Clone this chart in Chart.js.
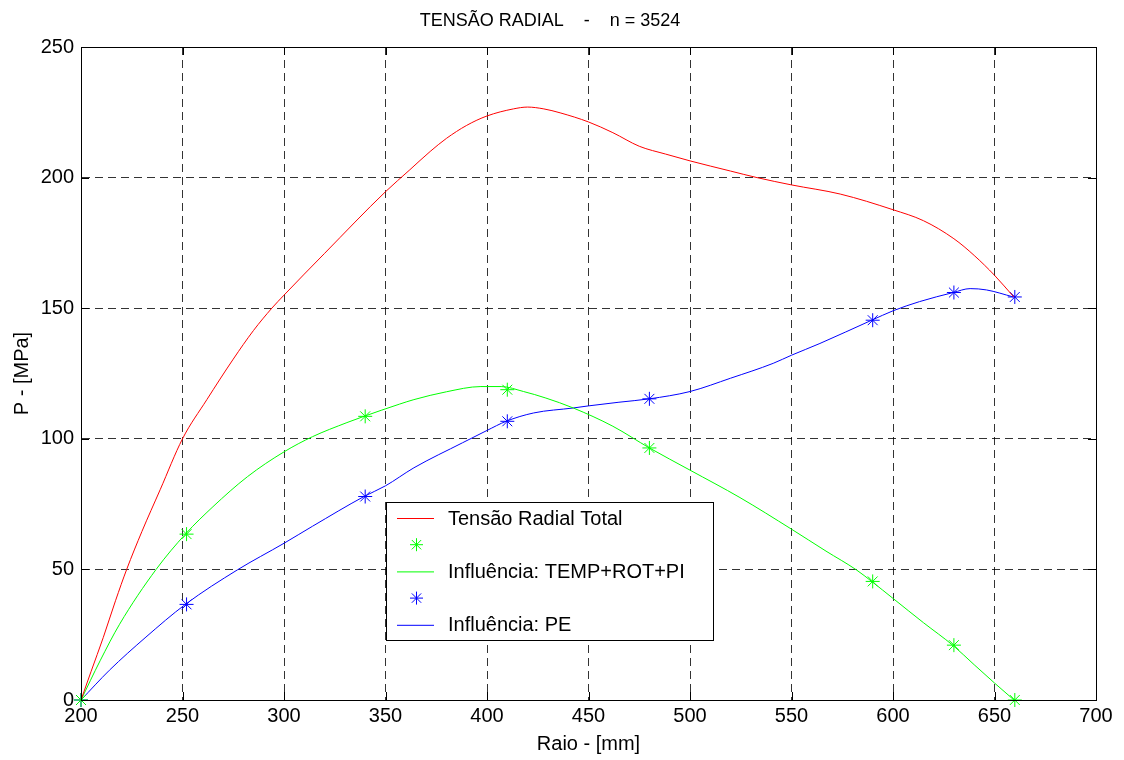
<!DOCTYPE html>
<html>
<head>
<meta charset="utf-8">
<script src="https://cdn.jsdelivr.net/npm/chart.js@4"></script>
<style>
  html, body { margin: 0; padding: 0; background: #fff; }
  #wrap { width: 1124px; height: 760px; }
</style>
</head>
<body>
<div id="wrap"><canvas id="radialChart" width="1124" height="760"></canvas></div>
<script>
// --- data ---
var xTicks = [200, 250, 300, 350, 400, 450, 500, 550, 600, 650, 700];
var yTicks = [0, 50, 100, 150, 200, 250];

// star markers (same radii for both influence series)
var markerRaio = [200, 252, 340, 410, 480, 590, 630, 660];
var markerTemp = [0, 63.5, 108.6, 118.8, 96.5, 45.4, 21, 0];
var markerPE = [0, 36.6, 77.9, 106.7, 115.3, 145.4, 156, 154.3];

// Tensão Radial Total curve
var totalRaio = [200, 205, 211, 217, 222.5, 230, 239, 250, 262, 275, 285, 294, 300, 320, 350, 362, 372, 380, 390, 400, 413, 420, 428, 436, 450, 462, 475, 488, 500, 520, 533, 550, 574, 600, 615, 630, 640, 650, 659.5];
var totalP = [0, 11, 24, 38, 50, 64.5, 80.5, 100, 115, 130.5, 141.5, 150, 155, 171, 194.6, 203, 210, 215, 220, 223.6, 226.3, 227, 226.3, 224.8, 221.3, 217.2, 212, 209, 206.4, 202.5, 200, 197.2, 193.7, 187.7, 183.5, 176.6, 170.2, 162.6, 154.3];

// Influência: TEMP+ROT+PI curve
var tempRaio = [200, 209.4, 219, 237, 251.4, 265, 282, 300, 314, 331, 339.4, 357, 364, 380, 397, 407, 418, 429, 442.5, 462, 480, 500, 524.6, 550, 567, 582, 589.5, 600, 615, 629.7, 640, 650, 659.6];
var tempP = [0, 15, 29, 50, 63.5, 74, 85.5, 95, 100.8, 106.2, 108.6, 113.3, 115, 118, 120, 120, 118.1, 115.6, 111.8, 104.8, 96.5, 88, 77.5, 65.4, 57, 49.8, 45.4, 38.9, 29.6, 20.8, 13.5, 6.5, 0];

// Influência: PE curve
var peRaio = [200, 214, 232, 251.4, 277, 300, 314, 339.4, 350, 364, 388, 400, 409.4, 423, 442.5, 450, 465, 480, 500, 520, 541, 550, 564, 589.5, 600, 613, 629.7, 638, 646, 659.3];
var peP = [0, 11.4, 24.1, 36.6, 49.8, 60, 66.5, 77.9, 82, 88.9, 98.5, 103.2, 106.7, 109.9, 111.8, 112.6, 114, 115.3, 118.1, 123.2, 128.9, 132, 136.5, 145.4, 149, 152.5, 156, 157.5, 157, 154.3];

var titleText = 'TENSÃO RADIAL    -    n = 3524';
var FONT = '"Liberation Sans", Arial, Helvetica, sans-serif';

function pts(xs, ys) {
  return xs.map(function(x, i) { return { x: x, y: ys[i] }; });
}

// MATLAB-ish frame: full box, inward ticks, title and boxed legend
var matlabFrame = {
  id: 'matlabFrame',
  afterDraw: function(chart) {
    var ctx = chart.ctx;
    var a = chart.chartArea;
    var xs = chart.scales.x, ys = chart.scales.y;
    var tl = 8;

    ctx.save();
    ctx.strokeStyle = '#000';
    ctx.lineWidth = 1;
    ctx.setLineDash([]);
    ctx.strokeRect(Math.round(a.left) + 0.5, Math.round(a.top) + 0.5, Math.round(a.right - a.left), Math.round(a.bottom - a.top));

    ctx.beginPath();
    xs.ticks.forEach(function(t) {
      var px = Math.round(xs.getPixelForValue(t.value)) + 0.5;
      ctx.moveTo(px, a.bottom); ctx.lineTo(px, a.bottom - tl);
      ctx.moveTo(px, a.top); ctx.lineTo(px, a.top + tl);
    });
    ys.ticks.forEach(function(t) {
      var py = Math.round(ys.getPixelForValue(t.value)) + 0.5;
      ctx.moveTo(a.left, py); ctx.lineTo(a.left + tl, py);
      ctx.moveTo(a.right, py); ctx.lineTo(a.right - tl, py);
    });
    ctx.stroke();

    // title
    ctx.fillStyle = '#000';
    ctx.font = '18px ' + FONT;
    ctx.textAlign = 'center';
    ctx.textBaseline = 'middle';
    ctx.fillText(titleText, 550, 21);

    // legend box
    var lx = 386.5, ly = 502.5, lw = 327, lh = 138;
    ctx.fillStyle = '#fff';
    ctx.fillRect(lx, ly, lw, lh);
    ctx.strokeStyle = '#000';
    ctx.strokeRect(lx, ly, lw, lh);

    ctx.font = '20px ' + FONT;
    ctx.textAlign = 'left';
    var rowY = 518;
    chart.data.datasets.forEach(function(ds) {
      if (ds.showLine === false) {
        var cx = 416.5, r = 6.5;
        ctx.strokeStyle = ds.borderColor;
        ctx.beginPath();
        ctx.moveTo(cx - r, rowY); ctx.lineTo(cx + r, rowY);
        ctx.moveTo(cx, rowY - r); ctx.lineTo(cx, rowY + r);
        var d = r * 0.72;
        ctx.moveTo(cx - d, rowY - d); ctx.lineTo(cx + d, rowY + d);
        ctx.moveTo(cx - d, rowY + d); ctx.lineTo(cx + d, rowY - d);
        ctx.stroke();
      } else {
        ctx.strokeStyle = ds.borderColor;
        ctx.beginPath();
        ctx.moveTo(397, rowY + 0.5); ctx.lineTo(434, rowY + 0.5);
        ctx.stroke();
      }
      if (ds.label) {
        ctx.fillStyle = '#000';
        ctx.fillText(ds.label, 448, rowY + 1);
      }
      rowY += 26.7;
    });
    ctx.restore();
  }
};

new Chart(document.getElementById('radialChart'), {
  type: 'scatter',
  data: {
    datasets: [
      {
        label: 'Tensão Radial Total',
        data: pts(totalRaio, totalP),
        showLine: true,
        borderColor: '#ff0000',
        borderWidth: 1,
        pointRadius: 0,
        cubicInterpolationMode: 'monotone'
      },
      {
        label: '',
        data: pts(markerRaio, markerTemp),
        showLine: false,
        borderColor: '#00ff00',
        backgroundColor: '#00ff00',
        pointStyle: 'star',
        pointRadius: 7,
        borderWidth: 1,
        clip: false
      },
      {
        label: 'Influência: TEMP+ROT+PI',
        data: pts(tempRaio, tempP),
        showLine: true,
        borderColor: '#00ff00',
        borderWidth: 1,
        pointRadius: 0,
        cubicInterpolationMode: 'monotone'
      },
      {
        label: '',
        data: pts(markerRaio, markerPE),
        showLine: false,
        borderColor: '#0000ff',
        backgroundColor: '#0000ff',
        pointStyle: 'star',
        pointRadius: 7,
        borderWidth: 1,
        clip: false
      },
      {
        label: 'Influência: PE',
        data: pts(peRaio, peP),
        showLine: true,
        borderColor: '#0000ff',
        borderWidth: 1,
        pointRadius: 0,
        cubicInterpolationMode: 'monotone'
      }
    ]
  },
  options: {
    responsive: false,
    animation: false,
    events: [],
    layout: { padding: { top: 47, right: 28, left: 0, bottom: 0 } },
    plugins: {
      legend: { display: false },
      tooltip: { enabled: false },
      title: { display: false }
    },
    scales: {
      x: {
        type: 'linear',
        min: 200,
        max: 700,
        afterBuildTicks: function(s) { s.ticks = xTicks.map(function(v) { return { value: v }; }); },
        afterFit: function(s) { s.height = 60; },
        grid: { color: 'rgba(0,0,0,0.8)', drawTicks: false, lineWidth: 1 },
        border: { color: '#000', dash: [8, 5] },
        ticks: { color: '#000', padding: 4, maxRotation: 0, font: { family: FONT, size: 20 } },
        title: { display: true, text: 'Raio - [mm]', color: '#000', padding: { top: 0, bottom: 4 }, font: { family: FONT, size: 20 } }
      },
      y: {
        type: 'linear',
        min: 0,
        max: 250,
        afterBuildTicks: function(s) { s.ticks = yTicks.map(function(v) { return { value: v }; }); },
        afterFit: function(s) { s.width = 81; },
        grid: { color: 'rgba(0,0,0,0.8)', drawTicks: false, lineWidth: 1 },
        border: { color: '#000', dash: [8, 5] },
        ticks: { color: '#000', padding: 7, font: { family: FONT, size: 20 } },
        title: { display: true, text: 'P - [MPa]', color: '#000', padding: { top: 10, bottom: 0 }, font: { family: FONT, size: 20 } }
      }
    }
  },
  plugins: [matlabFrame]
});
</script>
</body>
</html>
